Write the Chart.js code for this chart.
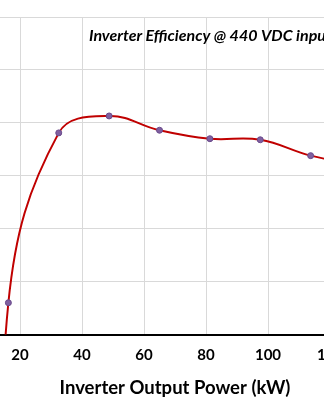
<!DOCTYPE html>
<html>
<head>
<meta charset="utf-8">
<script src="https://cdn.jsdelivr.net/npm/chart.js@4"></script>
<style>
  html, body { margin: 0; padding: 0; background: #fff; overflow: hidden; }
  body { width: 324px; height: 400px; position: relative; }
  #chart { position: absolute; left: -16px; top: 0; }
</style>
</head>
<body>
<canvas id="chart" width="396" height="400"></canvas>
<script>
"use strict";

// ── Data ─────────────────────────────────────────────────────────────────
const chartTitle = "Inverter Efficiency @ 440 VDC input";
const xTitle = "Inverter Output Power (kW)";
const powerKw = [15.9, 16.25, 32.5, 48.75, 65, 81.25, 97.5, 113.75, 130];
const efficiencyPct = [86.0, 92.6, 95.81, 96.13, 95.86, 95.7, 95.68, 95.38, 95.2];
const shownPoint = [false, true, true, true, true, true, true, true, true];
const xTicks = [20, 40, 60, 80, 100, 120];
const yTicks = [92, 93, 94, 95, 96, 97, 98];

const FONT = "Lato, 'Liberation Sans', sans-serif";

// title sits inside the plot area, so draw it there instead of using the title plugin
const innerTitle = {
  id: "innerTitle",
  afterDraw(chart) {
    const { ctx } = chart;
    ctx.save();
    ctx.font = "italic bold 16px " + FONT;
    ctx.fillStyle = "#000";
    ctx.textBaseline = "alphabetic";
    ctx.fillText(chartTitle, 105, 41);
    ctx.restore();
  },
};

new Chart(document.getElementById("chart"), {
  type: "line",
  data: {
    datasets: [{
      data: powerKw.map((x, i) => ({ x, y: efficiencyPct[i] })),
      borderColor: "#c00000",
      borderWidth: 2,
      tension: 0.4,
      pointRadius: shownPoint.map((s) => (s ? 3 : 0)),
      pointBackgroundColor: "#7f60a0",
      pointBorderColor: "#6a4a8c",
      pointBorderWidth: 1,
      fill: false,
    }],
  },
  options: {
    responsive: false,
    animation: false,
    devicePixelRatio: 1,
    layout: { padding: { top: 17, right: 19, bottom: 0, left: 0 } },
    plugins: { legend: { display: false }, tooltip: { enabled: false } },
    scales: {
      x: {
        type: "linear",
        min: 10,
        max: 130,
        afterBuildTicks: (s) => { s.ticks = xTicks.map((v) => ({ value: v })); },
        grid: { color: "#d9d9d9", lineWidth: 1, drawTicks: false },
        border: { color: "#000", width: 2 },
        ticks: { color: "#000", padding: 13, maxRotation: 0, font: { family: FONT, size: 15, weight: "bold", lineHeight: 1 } },
        title: {
          display: true, text: xTitle, color: "#000",
          padding: { top: 3, bottom: 3 },
          font: { family: FONT, size: 18.5, weight: "bold", lineHeight: 1 },
        },
      },
      y: {
        min: yTicks[0],
        max: yTicks[yTicks.length - 1],
        afterBuildTicks: (s) => { s.ticks = yTicks.map((v) => ({ value: v })); },
        grid: { color: "#d9d9d9", lineWidth: 1, drawTicks: false },
        border: { display: false },
        ticks: { display: false },
      },
    },
  },
  plugins: [innerTitle],
});
</script>
</body>
</html>
